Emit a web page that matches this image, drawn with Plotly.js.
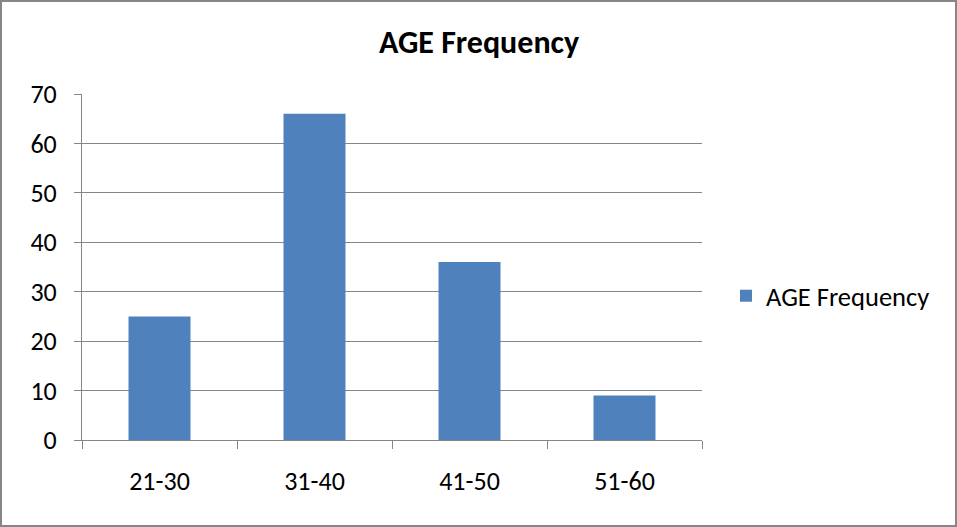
<!DOCTYPE html>
<html>
<head>
<meta charset="utf-8">
<script src="https://cdn.plot.ly/plotly-3.0.1.min.js"></script>
<style>
  html, body { margin: 0; padding: 0; background: #fff; }
  #chart { width: 957px; height: 527px; }
</style>
</head>
<body>
<div id="chart"></div>
<script>
const categories = ["21-30", "31-40", "41-50", "51-60"];
const frequency = [25, 66, 36, 9];
const seriesName = "AGE Frequency";
const chartTitle = "AGE Frequency";
const yTicks = [0, 10, 20, 30, 40, 50, 60, 70];

const W = 957, H = 527;
const L = 82, R = 255, T = 94, B = 87;
const pw = W - L - R, ph = H - T - B;
const px = v => (v - L) / pw;
const py = v => 1 - (v - T) / ph;

const fontFam = "Calibri, Carlito, Lato, 'Open Sans', sans-serif";
const gridCol = "#868686";

const data = [{
  type: "bar",
  x: categories,
  y: frequency,
  name: seriesName,
  marker: { color: "#4F81BD", line: { width: 0 } },
  showlegend: true,
  hoverinfo: "x+y"
}];

const layout = {
  width: W, height: H,
  margin: { l: L, r: R, t: T, b: B, pad: 0 },
  paper_bgcolor: "#ffffff",
  plot_bgcolor: "#ffffff",
  font: { family: fontFam, color: "#000000", size: 26 },
  bargap: 0.6,
  title: {
    text: "<b>" + chartTitle + "</b>",
    font: { family: fontFam, size: 32, color: "#000000" },
    x: 479 / W, xref: "container", xanchor: "center",
    y: 1 - 42 / H, yref: "container", yanchor: "middle"
  },
  xaxis: {
    type: "category",
    tickson: "boundaries",
    ticks: "outside",
    ticklen: 8,
    tickwidth: 1,
    tickcolor: gridCol,
    showline: true,
    linecolor: gridCol,
    linewidth: 1,
    showgrid: false,
    zeroline: false,
    tickfont: { family: fontFam, size: 26, color: "#000" },
    ticklabelstandoff: 18,
    fixedrange: true
  },
  yaxis: {
    range: [0, 70],
    tickvals: yTicks,
    ticktext: yTicks.map(String),
    ticks: "outside",
    ticklen: 7,
    tickwidth: 1,
    tickcolor: gridCol,
    showline: true,
    linecolor: gridCol,
    linewidth: 1,
    showgrid: true,
    gridcolor: gridCol,
    gridwidth: 1,
    zeroline: false,
    tickfont: { family: fontFam, size: 26, color: "#000" },
    ticklabelstandoff: 12,
    fixedrange: true
  },
  legend: {
    x: px(726), xanchor: "left",
    y: py(296), yanchor: "middle",
    font: { family: fontFam, size: 26.5, color: "#000" },
    bgcolor: "rgba(0,0,0,0)",
    itemwidth: 30,
    traceorder: "normal"
  },
  shapes: [{
    type: "rect", xref: "paper", yref: "paper",
    x0: px(1), x1: px(956), y0: py(1), y1: py(526),
    line: { color: gridCol, width: 2 },
    fillcolor: "rgba(0,0,0,0)",
    layer: "above"
  }]
};

Plotly.newPlot("chart", data, layout, { displayModeBar: false, staticPlot: true });
</script>
</body>
</html>
